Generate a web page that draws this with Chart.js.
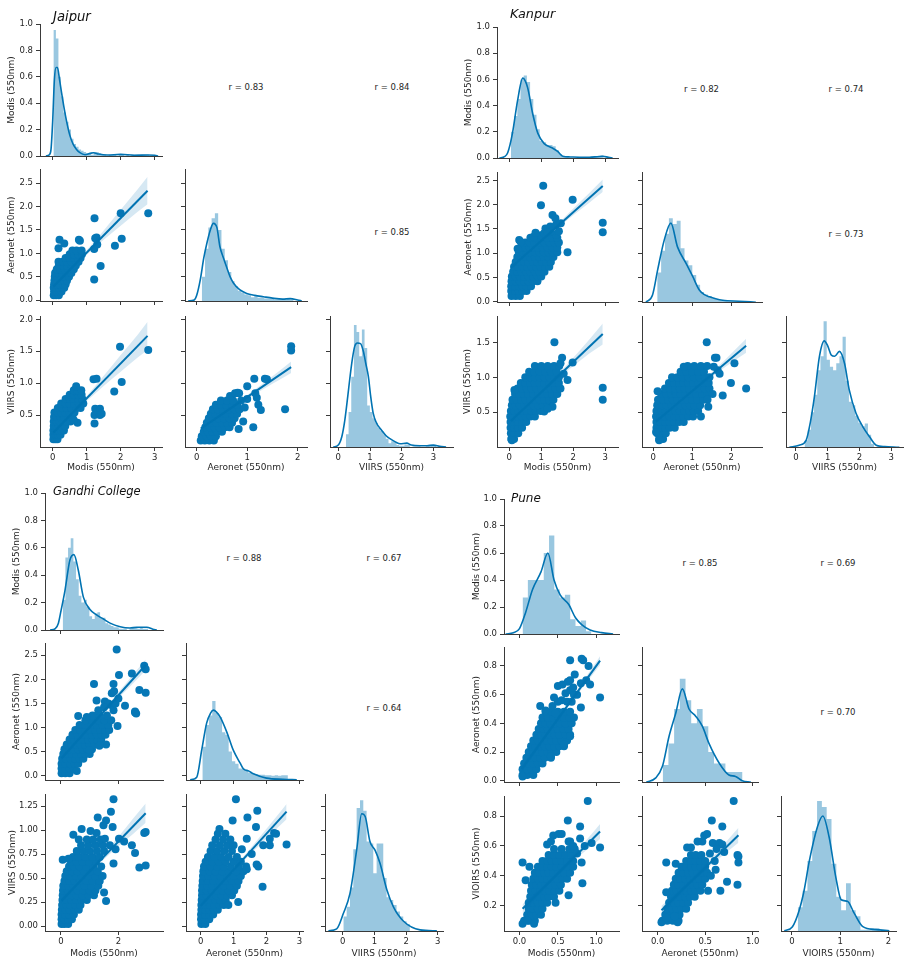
<!DOCTYPE html>
<html><head><meta charset="utf-8">
<script src="https://cdn.jsdelivr.net/npm/chart.js@4.4.0/dist/chart.umd.min.js"></script>
<style>
html,body{margin:0;padding:0;background:#fff;}
#page{position:relative;width:913px;height:960px;overflow:hidden;font-family:'DejaVu Sans',sans-serif;}
#page canvas{position:absolute;}
.rl{position:absolute;white-space:nowrap;color:#262626;font-size:8.5px;line-height:1;transform:translate(-50%,-50%);}
.tt{position:absolute;white-space:nowrap;color:#111;font-style:italic;line-height:1;transform:translateY(-50%);}
</style></head><body><div id="page"></div>
<script>
// ================= DATA =================
// tick values
const ticks0123 = [0,1,2,3];
const ticks012 = [0,1,2];
const ticks02 = [0,2];
const ticksDensity = [0,0.2,0.4,0.6,0.8,1.0];
const ticksHalfTo25 = [0,0.5,1.0,1.5,2.0,2.5];
const ticksJaipurViirs = [0.5,1.0,1.5,2.0];
const ticksKanpurViirs = [0.5,1.0,1.5];
const ticksGandhiViirs = [0,0.25,0.5,0.75,1.0,1.25];
const ticksPuneX = [0,0.5,1.0];
const ticksPuneAeronet = [0,0.2,0.4,0.6,0.8];
const ticksPuneViirs = [0.2,0.4,0.6,0.8];

const varNames = ['Modis (550nm)','Aeronet (550nm)','VIIRS (550nm)'];
const varNamesPune = ['Modis (550nm)','Aeronet (550nm)','VIOIRS (550nm)'];
const siteNames = ['Jaipur','Kanpur','Gandhi College','Pune'];

// correlation coefficients: [Modis-Aeronet, Modis-VIIRS, Aeronet-VIIRS]
const jaipurR = [0.83,0.84,0.85];
const kanpurR = [0.82,0.74,0.73];
const gandhiR = [0.88,0.67,0.64];
const puneR = [0.85,0.69,0.70];

// ---------- Jaipur ----------
const jaipurModisBins = [0.02,0.074];
const jaipurModisHist = [0.955,0.89,0.6,0.45,0.33,0.26,0.2,0.13,0.09,0.07,0.05,0.04,0.03,0.02,0.02,0.01,0.03,0.03,0.02,0.01,0.01,0,0.01,0.01,0.01,0,0.01,0.01,0,0.01,0,0.01,0.01,0.01,0,0.01,0.01,0.01];
const jaipurModisKde = [[-0.2,0],[-0.1,0.01],[-0.05,0.05],[0,0.27],[0.05,0.58],[0.1,0.67],[0.14,0.67],[0.2,0.58],[0.26,0.48],[0.33,0.37],[0.41,0.26],[0.5,0.16],[0.6,0.09],[0.7,0.05],[0.8,0.025],[0.95,0.01],[1.1,0.02],[1.2,0.025],[1.35,0.015],[1.6,0.008],[2.0,0.012],[2.4,0.006],[2.8,0.008],[3.0,0.006],[3.1,0]];
const jaipurAeronetBins = [0.1,0.065];
const jaipurAeronetHist = [0.5,1.1,1.55,1.75,1.86,1.5,1.1,0.85,0.6,0.4,0.3,0.2,0.16,0.12,0.1,0.06,0.08,0.05,0.05,0.03,0.03,0.02,0.01,0.01,0,0.01,0.02,0.01];
const jaipurAeronetKde = [[-0.17,-0.02],[-0.05,0],[0,0.1],[0.07,0.43],[0.14,0.9],[0.2,1.21],[0.27,1.5],[0.33,1.64],[0.4,1.55],[0.46,1.14],[0.53,0.9],[0.59,0.71],[0.66,0.5],[0.73,0.36],[0.85,0.22],[0.99,0.14],[1.15,0.1],[1.32,0.07],[1.5,0.04],[1.7,0.02],[1.85,0.03],[2.0,0],[2.08,-0.02]];
const jaipurViirsBins = [0.24,0.084];
const jaipurViirsHist = [0.2,0.55,1.1,1.91,1.8,1.42,1.84,1.55,0.65,0.55,0.45,0.38,0.3,0.25,0.2,0.13,0.06,0.09,0.08,0.03,0.02,0.02,0.04,0.03,0,0.01,0.01,0.01,0,0,0.01,0.01,0.02,0.02];
const jaipurViirsKde = [[-0.16,0],[0,0.03],[0.11,0.16],[0.2,0.4],[0.3,0.8],[0.37,1.1],[0.45,1.4],[0.52,1.58],[0.6,1.63],[0.7,1.62],[0.79,1.5],[0.87,1.3],[0.95,1.1],[1.02,0.8],[1.1,0.53],[1.2,0.38],[1.37,0.26],[1.5,0.18],[1.63,0.13],[1.8,0.08],[1.95,0.05],[2.16,0.06],[2.3,0.03],[2.58,0.02],[2.8,0.02],[3.0,0.03],[3.2,0.01],[3.4,0]];

const jaipurModisAeronet = [
[0.03,0.10],[0.10,0.10],[0.18,0.10],
[0.04,0.18],[0.12,0.18],[0.20,0.18],[0.26,0.18],
[0.03,0.26],[0.10,0.26],[0.18,0.26],[0.27,0.26],[0.34,0.26],
[0.04,0.34],[0.12,0.34],[0.20,0.34],[0.30,0.34],[0.38,0.34],
[0.05,0.42],[0.13,0.42],[0.22,0.42],[0.32,0.42],[0.42,0.42],
[0.06,0.50],[0.14,0.50],[0.24,0.50],[0.35,0.50],[0.48,0.50],
[0.07,0.58],[0.16,0.58],[0.27,0.58],[0.40,0.58],[0.55,0.58],
[0.12,0.66],[0.22,0.66],[0.34,0.66],[0.46,0.66],[0.62,0.66],
[0.18,0.74],[0.30,0.74],[0.42,0.74],[0.55,0.74],[0.68,0.74],
[0.17,0.82],[0.30,0.82],[0.42,0.82],[0.55,0.82],[0.68,0.82],[0.76,0.82],
[0.38,0.90],[0.50,0.90],[0.62,0.90],[0.74,0.90],[0.82,0.90],
[0.50,0.98],[0.62,0.98],[0.75,0.98],[0.86,0.98],
[0.58,1.06],[0.70,1.06],[0.85,1.06],
[0.20,1.29],[0.77,1.29],[0.17,1.11],[0.34,1.21],[0.80,1.27],[1.23,1.75],[2.00,1.86],[2.81,1.86],[1.29,1.34],[2.03,1.31],[1.25,1.32],[1.22,1.09],[1.83,1.16],[1.41,0.73],[1.22,0.44],[1.31,1.19]];
const jaipurModisAeronetFit = [[0.02,0.29],[2.79,2.34]];
const jaipurModisAeronetBand = [[0.02,0.26,0.32],[0.3,0.48,0.52],[1.0,0.97,1.07],[1.5,1.29,1.49],[2.0,1.59,1.93],[2.5,1.89,2.37],[2.79,2.05,2.64]];

const jaipurModisViirs = [
[0.02,0.12],[0.08,0.12],[0.14,0.12],
[0.02,0.19],[0.09,0.19],[0.16,0.19],[0.23,0.19],
[0.02,0.26],[0.09,0.26],[0.17,0.26],[0.25,0.26],[0.33,0.26],
[0.03,0.33],[0.10,0.33],[0.18,0.33],[0.27,0.33],[0.37,0.33],
[0.03,0.40],[0.11,0.40],[0.20,0.40],[0.30,0.40],[0.42,0.40],[0.52,0.40],
[0.04,0.47],[0.12,0.47],[0.22,0.47],[0.33,0.47],[0.45,0.47],[0.58,0.47],
[0.05,0.54],[0.14,0.54],[0.25,0.54],[0.37,0.54],[0.50,0.54],[0.64,0.54],
[0.15,0.61],[0.28,0.61],[0.41,0.61],[0.55,0.61],[0.70,0.61],[0.82,0.61],
[0.25,0.68],[0.38,0.68],[0.50,0.68],[0.63,0.68],[0.77,0.68],[0.90,0.68],
[0.38,0.75],[0.50,0.75],[0.62,0.75],[0.75,0.75],[0.87,0.75],
[0.50,0.82],[0.62,0.82],[0.74,0.82],[0.85,0.82],
[0.62,0.89],[0.72,0.89],[0.84,0.89],
[0.69,0.95],[0.73,0.38],[0.62,0.42],
[1.98,1.57],[2.81,1.52],[1.20,1.06],[1.29,1.07],[2.03,1.02],[1.81,0.87],[1.25,0.60],[1.39,0.60],[1.23,0.50],[1.39,0.50],[1.44,0.52],[1.23,0.37]];
const jaipurModisViirsFit = [[0.02,0.227],[2.79,1.74]];
const jaipurModisViirsBand = [[0.02,0.21,0.25],[0.3,0.365,0.395],[1.0,0.72,0.8],[1.5,0.955,1.115],[2.0,1.18,1.44],[2.5,1.4,1.76],[2.79,1.52,1.96]];

const jaipurAeronetViirs = [
[0.08,0.10],[0.16,0.10],[0.25,0.10],[0.34,0.10],
[0.10,0.17],[0.19,0.17],[0.28,0.17],[0.38,0.17],
[0.14,0.24],[0.22,0.24],[0.31,0.24],[0.40,0.24],[0.50,0.24],
[0.17,0.31],[0.26,0.31],[0.35,0.31],[0.45,0.31],[0.56,0.31],[0.65,0.31],
[0.20,0.38],[0.29,0.38],[0.39,0.38],[0.50,0.38],[0.60,0.38],[0.70,0.38],
[0.24,0.45],[0.33,0.45],[0.43,0.45],[0.54,0.45],[0.65,0.45],[0.75,0.45],
[0.28,0.52],[0.37,0.52],[0.47,0.52],[0.58,0.52],[0.70,0.52],[0.80,0.52],
[0.32,0.59],[0.42,0.59],[0.52,0.59],[0.63,0.59],[0.75,0.59],[0.85,0.59],
[0.38,0.66],[0.48,0.66],[0.58,0.66],[0.70,0.66],[0.80,0.66],
[0.48,0.73],[0.60,0.73],[0.72,0.73],[0.88,0.73],
[1.87,1.58],[1.87,1.51],[1.75,0.59],[1.14,1.07],[1.35,1.07],[1.39,1.06],[1.00,0.95],[0.66,0.80],[0.76,0.84],[0.81,0.85],[0.84,0.84],[1.16,0.84],[1.19,0.77],[0.92,0.40],[1.12,0.31],[0.83,0.28],[1.22,0.66],[1.27,0.58],[1.00,0.75],[0.95,0.62]];
const jaipurAeronetViirsFit = [[0.08,0.289],[1.87,1.25]];
const jaipurAeronetViirsBand = [[0.08,0.27,0.31],[0.4,0.451,0.471],[1.0,0.753,0.813],[1.5,0.99,1.11],[1.87,1.16,1.34]];

// ---------- Kanpur ----------
const kanpurModisBins = [0.05,0.1];
const kanpurModisHist = [0.2,0.32,0.45,0.6,0.63,0.58,0.45,0.33,0.22,0.13,0.12,0.1,0.1,0.09,0.06,0.03,0.01,0.01,0,0,0,0,0,0,0,0.01,0.01,0.01,0.02];
const kanpurModisKde = [[-0.31,0],[-0.15,0.01],[-0.05,0.04],[0.1,0.19],[0.26,0.44],[0.42,0.61],[0.57,0.54],[0.73,0.34],[0.89,0.19],[1.09,0.11],[1.35,0.076],[1.51,0.05],[1.67,0.013],[1.9,0.008],[2.2,0.006],[2.5,0.006],[2.75,0.01],[2.92,0.013],[3.1,0.005],[3.23,0]];
const kanpurAeronetBins = [0.1,0.1];
const kanpurAeronetHist = [0.6,1.05,1.4,1.72,1.6,1.67,1.1,0.85,0.75,0.55,0.35,0.2,0.15,0.12,0.07,0.05,0.03,0.02,0.01,0.01,0.01,0,0.01];
const kanpurAeronetKde = [[-0.19,-0.01],[-0.02,0.14],[0.11,0.65],[0.28,1.27],[0.45,1.62],[0.62,1.13],[0.84,0.79],[1.01,0.52],[1.18,0.24],[1.3,0.15],[1.44,0.1],[1.6,0.06],[1.78,0.03],[2.2,0.01],[2.63,-0.01]];
const kanpurViirsBins = [0.27,0.1];
const kanpurViirsHist = [0.1,0.25,0.5,0.75,1.1,1.3,1.8,1.25,1.15,1.1,1.2,1.3,1.58,0.95,0.65,0.6,0.45,0.35,0.3,0.34,0.18,0.05];
const kanpurViirsKde = [[-0.21,0],[0.1,0.03],[0.32,0.1],[0.45,0.35],[0.58,0.72],[0.74,1.3],[0.89,1.52],[1.0,1.45],[1.11,1.32],[1.22,1.3],[1.37,1.37],[1.53,1.2],[1.68,0.82],[1.89,0.49],[2.1,0.3],[2.32,0.15],[2.53,0.03],[2.8,0.01],[3.26,0]];

const kanpurModisAeronet = [
[0.07,0.12],[0.20,0.12],[0.33,0.12],
[0.06,0.22],[0.18,0.22],[0.30,0.22],[0.42,0.22],[0.54,0.22],
[0.06,0.32],[0.18,0.32],[0.30,0.32],[0.42,0.32],[0.54,0.32],[0.68,0.32],
[0.07,0.42],[0.20,0.42],[0.33,0.42],[0.46,0.42],[0.60,0.42],[0.74,0.42],[0.88,0.42],
[0.08,0.52],[0.20,0.52],[0.33,0.52],[0.46,0.52],[0.60,0.52],[0.74,0.52],[0.88,0.52],[1.00,0.52],
[0.12,0.62],[0.25,0.62],[0.38,0.62],[0.52,0.62],[0.66,0.62],[0.80,0.62],[0.94,0.62],[1.10,0.62],
[0.15,0.72],[0.28,0.72],[0.42,0.72],[0.56,0.72],[0.70,0.72],[0.84,0.72],[0.98,0.72],[1.12,0.72],[1.25,0.72],
[0.20,0.82],[0.33,0.82],[0.47,0.82],[0.60,0.82],[0.74,0.82],[0.88,0.82],[1.02,0.82],[1.16,0.82],[1.30,0.82],
[0.25,0.92],[0.38,0.92],[0.52,0.92],[0.66,0.92],[0.80,0.92],[0.94,0.92],[1.08,0.92],[1.22,0.92],[1.38,0.92],
[0.30,1.02],[0.42,1.02],[0.54,1.02],[0.66,1.02],[0.80,1.02],[0.94,1.02],[1.08,1.02],[1.22,1.02],[1.36,1.02],[1.50,1.02],
[0.40,1.12],[0.52,1.12],[0.64,1.12],[0.76,1.12],[0.90,1.12],[1.05,1.12],[1.20,1.12],[1.35,1.12],[1.50,1.12],
[0.50,1.22],[0.64,1.22],[0.78,1.22],[0.94,1.22],[1.10,1.22],[1.26,1.22],[1.42,1.22],[1.55,1.22],
[0.66,1.32],[0.82,1.32],[1.00,1.32],[1.18,1.32],[1.35,1.32],[1.50,1.32],
[1.06,2.39],[0.99,1.99],[1.98,2.10],[2.92,1.63],[2.92,1.43],[1.35,1.79],[1.44,1.72],[0.76,1.34],[0.99,1.37],[1.13,1.51],[1.28,1.55],[1.46,1.58],[1.61,1.62],[0.31,1.27],[1.82,1.02],[0.26,1.09],[0.36,1.23],[1.09,1.41],[1.46,1.38],[1.30,1.45],[1.55,1.45],[0.82,1.42],[1.20,1.42]];
const kanpurModisAeronetFit = [[0.05,0.70],[2.92,2.387]];
const kanpurModisAeronetBand = [[0.05,0.67,0.73],[0.5,0.95,0.98],[1.0,1.238,1.278],[1.5,1.51,1.59],[2.0,1.78,1.92],[2.5,2.04,2.24],[2.92,2.26,2.52]];

const kanpurModisViirs = [
[0.06,0.12],[0.15,0.12],
[0.05,0.20],[0.15,0.20],[0.28,0.20],
[0.04,0.28],[0.15,0.28],[0.27,0.28],[0.40,0.28],
[0.04,0.36],[0.15,0.36],[0.27,0.36],[0.40,0.36],[0.53,0.36],
[0.03,0.44],[0.14,0.44],[0.26,0.44],[0.39,0.44],[0.52,0.44],[0.66,0.44],[0.80,0.44],
[0.05,0.52],[0.16,0.52],[0.28,0.52],[0.41,0.52],[0.55,0.52],[0.69,0.52],[0.83,0.52],[0.98,0.52],
[0.08,0.60],[0.20,0.60],[0.33,0.60],[0.47,0.60],[0.61,0.60],[0.75,0.60],[0.90,0.60],[1.05,0.60],[1.20,0.60],
[0.10,0.68],[0.23,0.68],[0.37,0.68],[0.51,0.68],[0.65,0.68],[0.80,0.68],[0.95,0.68],[1.10,0.68],[1.25,0.68],[1.38,0.68],
[0.18,0.76],[0.31,0.76],[0.45,0.76],[0.60,0.76],[0.75,0.76],[0.90,0.76],[1.05,0.76],[1.20,0.76],[1.35,0.76],[1.50,0.76],
[0.26,0.84],[0.40,0.84],[0.55,0.84],[0.70,0.84],[0.85,0.84],[1.00,0.84],[1.15,0.84],[1.30,0.84],[1.45,0.84],[1.60,0.84],
[0.36,0.92],[0.50,0.92],[0.65,0.92],[0.80,0.92],[0.95,0.92],[1.10,0.92],[1.25,0.92],[1.40,0.92],[1.55,0.92],
[0.50,1.00],[0.65,1.00],[0.80,1.00],[0.95,1.00],[1.10,1.00],[1.25,1.00],[1.40,1.00],[1.55,1.00],
[0.62,1.08],[0.78,1.08],[0.95,1.08],[1.12,1.08],[1.30,1.08],[1.48,1.08],
[0.80,1.16],[1.00,1.16],[1.20,1.16],[1.40,1.16],[1.56,1.16],
[1.41,1.50],[1.65,1.28],[1.98,1.21],[1.82,0.96],[2.92,0.85],[2.92,0.68],[1.35,0.58],[1.09,0.51],[0.16,0.82],[0.08,0.10],[1.20,0.55],[1.60,1.20],[1.70,1.05]];
const kanpurModisViirsFit = [[0.05,0.375],[2.92,1.62]];
const kanpurModisViirsBand = [[0.05,0.355,0.395],[0.5,0.56,0.58],[1.0,0.772,0.802],[1.5,0.974,1.034],[2.0,1.16,1.28],[2.5,1.34,1.54],[2.92,1.47,1.77]];

const kanpurAeronetViirs = [
[0.15,0.12],[0.25,0.12],
[0.10,0.20],[0.20,0.20],[0.32,0.20],
[0.08,0.28],[0.18,0.28],[0.30,0.28],[0.42,0.28],[0.55,0.28],
[0.08,0.36],[0.18,0.36],[0.30,0.36],[0.42,0.36],[0.54,0.36],[0.66,0.36],[0.78,0.36],
[0.07,0.44],[0.18,0.44],[0.30,0.44],[0.42,0.44],[0.54,0.44],[0.66,0.44],[0.78,0.44],[0.90,0.44],[1.02,0.44],
[0.08,0.52],[0.20,0.52],[0.32,0.52],[0.44,0.52],[0.56,0.52],[0.68,0.52],[0.80,0.52],[0.92,0.52],[1.04,0.52],[1.15,0.52],
[0.10,0.60],[0.22,0.60],[0.34,0.60],[0.46,0.60],[0.58,0.60],[0.70,0.60],[0.82,0.60],[0.94,0.60],[1.06,0.60],[1.20,0.60],
[0.12,0.68],[0.25,0.68],[0.38,0.68],[0.50,0.68],[0.62,0.68],[0.75,0.68],[0.88,0.68],[1.00,0.68],[1.13,0.68],[1.28,0.68],
[0.20,0.76],[0.33,0.76],[0.46,0.76],[0.58,0.76],[0.70,0.76],[0.83,0.76],[0.96,0.76],[1.10,0.76],[1.25,0.76],[1.38,0.76],
[0.30,0.84],[0.43,0.84],[0.56,0.84],[0.68,0.84],[0.80,0.84],[0.92,0.84],[1.05,0.84],[1.18,0.84],[1.32,0.84],[1.44,0.84],
[0.40,0.92],[0.53,0.92],[0.66,0.92],[0.78,0.92],[0.90,0.92],[1.02,0.92],[1.15,0.92],[1.30,0.92],[1.42,0.92],
[0.48,1.00],[0.62,1.00],[0.76,1.00],[0.90,1.00],[1.04,1.00],[1.18,1.00],[1.32,1.00],[1.44,1.00],
[0.70,1.08],[0.85,1.08],[1.00,1.08],[1.15,1.08],[1.30,1.08],
[0.88,1.16],[1.05,1.16],[1.22,1.16],[1.38,1.16],
[1.37,1.50],[1.58,1.28],[1.62,1.28],[0.78,1.15],[2.08,1.20],[1.99,0.92],[2.38,0.84],[1.78,0.74],[1.52,0.76],[1.39,0.68],[1.41,0.58],[1.22,0.44],[0.11,0.80],[0.07,0.22],[0.15,0.10],[1.55,1.15],[1.65,1.10],[1.70,1.05]];
const kanpurAeronetViirsFit = [[0.07,0.369],[2.38,1.45]];
const kanpurAeronetViirsBand = [[0.07,0.35,0.39],[0.6,0.607,0.627],[1.2,0.878,0.918],[1.8,1.13,1.23],[2.38,1.35,1.55]];

// ---------- Gandhi College ----------
const gandhiModisBins = [0.06,0.093];
const gandhiModisHist = [0.22,0.53,0.6,0.67,0.5,0.37,0.25,0.2,0.22,0.17,0.1,0.08,0.12,0.13,0.09,0.09,0.05,0.04,0.03,0.02,0.02,0.01,0.01,0.01,0,0.01,0.02,0.02,0.01,0.02,0.01,0.01];
const gandhiModisKde = [[-0.38,0],[-0.2,0.01],[-0.09,0.05],[0,0.14],[0.14,0.29],[0.31,0.51],[0.45,0.55],[0.6,0.44],[0.78,0.24],[1.01,0.15],[1.24,0.11],[1.48,0.08],[1.71,0.05],[2.06,0.024],[2.4,0.015],[2.64,0.02],[2.99,0.02],[3.2,0.006],[3.34,0]];
const gandhiAeronetBins = [0.05,0.1];
const gandhiAeronetHist = [0.6,1.05,1.25,1.55,1.3,1.22,0.9,0.85,0.5,0.3,0.25,0.15,0.15,0.12,0.06,0.04,0.03,0.02,0.02,0.01,0.01,0,0.01,0,0.01,0.01];
const gandhiAeronetKde = [[-0.32,-0.085],[-0.12,-0.03],[0.03,0.53],[0.18,1.09],[0.3,1.3],[0.39,1.36],[0.48,1.32],[0.59,1.22],[0.79,0.91],[0.99,0.53],[1.2,0.26],[1.3,0.14],[1.45,0.1],[1.6,0.04],[2.0,-0.05],[2.5,-0.075],[2.92,-0.085]];
const gandhiViirsBins = [0.02,0.105];
const gandhiViirsHist = [0.1,0.2,0.4,0.8,1.23,1.31,1.2,0.88,0.86,0.55,0.86,0.86,0.5,0.3,0.27,0.22,0.15,0.1,0.05,0.02];
const gandhiViirsKde = [[-0.45,-0.05],[-0.19,-0.03],[0.02,0.13],[0.23,0.34],[0.44,0.79],[0.6,1.17],[0.71,1.14],[0.86,0.88],[1.02,0.79],[1.18,0.65],[1.39,0.38],[1.6,0.2],[1.92,0.05],[2.44,-0.04],[2.97,-0.05]];

const gandhiModisAeronet = [
[0.02,0.05],[0.15,0.05],[0.30,0.05],
[0.02,0.15],[0.15,0.15],[0.30,0.15],[0.45,0.15],
[0.02,0.25],[0.16,0.25],[0.32,0.25],[0.48,0.25],[0.60,0.25],
[0.04,0.35],[0.18,0.35],[0.34,0.35],[0.50,0.35],[0.65,0.35],[0.78,0.35],
[0.08,0.45],[0.22,0.45],[0.38,0.45],[0.54,0.45],[0.70,0.45],[0.85,0.45],[1.00,0.45],
[0.12,0.55],[0.28,0.55],[0.44,0.55],[0.60,0.55],[0.76,0.55],[0.92,0.55],[1.08,0.55],
[0.20,0.65],[0.36,0.65],[0.52,0.65],[0.68,0.65],[0.84,0.65],[1.00,0.65],[1.16,0.65],[1.30,0.65],
[0.30,0.75],[0.46,0.75],[0.62,0.75],[0.78,0.75],[0.94,0.75],[1.10,0.75],[1.26,0.75],[1.40,0.75],
[0.40,0.85],[0.58,0.85],[0.75,0.85],[0.92,0.85],[1.08,0.85],[1.25,0.85],[1.42,0.85],[1.55,0.85],
[0.50,0.95],[0.68,0.95],[0.85,0.95],[1.02,0.95],[1.20,0.95],[1.38,0.95],[1.55,0.95],[1.68,0.95],
[0.65,1.05],[0.85,1.05],[1.05,1.05],[1.25,1.05],[1.45,1.05],[1.65,1.05],
[0.85,1.15],[1.08,1.15],[1.30,1.15],[1.52,1.15],[1.75,1.15],
[1.10,1.25],[1.35,1.25],[1.60,1.25],
[1.94,2.62],[2.90,2.28],[2.95,2.21],[1.15,1.90],[1.83,1.90],[2.02,2.09],[2.47,2.12],[2.73,1.78],[2.95,1.72],[1.77,1.71],[1.24,1.56],[2.23,1.45],[2.58,1.33],[2.62,1.29],[0.60,1.24],[0.90,1.22],[1.53,1.54],[1.71,1.47],[1.30,1.36],[1.83,1.36],[2.58,1.31],[1.97,1.03],[1.57,0.65],[1.34,0.62],[0.99,0.53],[0.55,0.10],[1.65,1.50],[1.50,1.42],[1.90,1.50],[2.00,1.60],[1.85,1.75]];
const gandhiModisAeronetFit = [[0.02,0.363],[2.95,2.297]];
const gandhiModisAeronetBand = [[0.02,0.33,0.39],[0.5,0.66,0.70],[1.0,0.99,1.03],[1.5,1.3,1.38],[2.0,1.61,1.73],[2.5,1.91,2.09],[2.95,2.19,2.41]];

const gandhiModisViirs = [
[0.02,0.02],[0.12,0.02],[0.25,0.02],
[0.02,0.07],[0.12,0.07],[0.25,0.07],[0.38,0.07],
[0.02,0.12],[0.14,0.12],[0.28,0.12],[0.45,0.12],
[0.03,0.17],[0.16,0.17],[0.30,0.17],[0.48,0.17],[0.62,0.17],
[0.04,0.22],[0.18,0.22],[0.33,0.22],[0.50,0.22],[0.68,0.22],
[0.05,0.27],[0.20,0.27],[0.36,0.27],[0.52,0.27],[0.72,0.27],[0.90,0.27],
[0.06,0.32],[0.22,0.32],[0.38,0.32],[0.55,0.32],[0.75,0.32],[0.95,0.32],[1.15,0.32],
[0.07,0.37],[0.24,0.37],[0.40,0.37],[0.58,0.37],[0.78,0.37],[1.00,0.37],[1.20,0.37],
[0.08,0.42],[0.26,0.42],[0.44,0.42],[0.62,0.42],[0.82,0.42],[1.05,0.42],[1.30,0.42],
[0.12,0.47],[0.30,0.47],[0.48,0.47],[0.66,0.47],[0.88,0.47],[1.10,0.47],[1.35,0.47],
[0.15,0.52],[0.33,0.52],[0.52,0.52],[0.72,0.52],[0.95,0.52],[1.20,0.52],[1.45,0.52],
[0.20,0.57],[0.38,0.57],[0.58,0.57],[0.80,0.57],[1.02,0.57],[1.28,0.57],
[0.28,0.62],[0.45,0.62],[0.65,0.62],[0.88,0.62],[1.12,0.62],[1.40,0.62],
[0.35,0.67],[0.55,0.67],[0.75,0.67],[0.98,0.67],[1.22,0.67],
[0.42,0.72],[0.62,0.72],[0.85,0.72],[1.10,0.72],[1.35,0.72],
[0.55,0.78],[0.78,0.78],[1.00,0.78],[1.25,0.78],[1.50,0.78],
[0.70,0.84],[0.95,0.84],[1.20,0.84],[1.45,0.84],[1.70,0.84],
[0.62,0.90],[0.90,0.90],[1.12,0.90],[1.38,0.90],
[1.83,1.32],[1.74,1.19],[1.28,1.13],[1.57,1.10],[1.48,1.05],[1.80,1.03],[0.72,1.01],[1.03,0.99],[0.43,0.95],[1.24,0.97],[1.53,0.91],[2.47,0.84],[2.90,0.97],[2.95,0.98],[2.58,0.76],[2.73,0.61],[2.95,0.63],[2.02,0.91],[1.83,0.65],[1.57,0.26],[1.50,0.35],[0.06,0.69],[0.26,0.70],[2.20,0.88],[1.90,0.80]];
const gandhiModisViirsFit = [[0.02,0.266],[2.95,1.175]];
const gandhiModisViirsBand = [[0.02,0.246,0.286],[0.5,0.405,0.425],[1.0,0.555,0.585],[1.5,0.695,0.755],[2.0,0.83,0.93],[2.5,0.955,1.115],[2.95,1.075,1.275]];

const gandhiAeronetViirs = [
[0.02,0.02],[0.14,0.02],
[0.01,0.07],[0.13,0.07],[0.26,0.07],
[0.01,0.12],[0.13,0.12],[0.26,0.12],[0.38,0.12],
[0.02,0.17],[0.14,0.17],[0.27,0.17],[0.40,0.17],[0.52,0.17],
[0.02,0.22],[0.15,0.22],[0.28,0.22],[0.42,0.22],[0.56,0.22],[0.70,0.22],
[0.03,0.27],[0.16,0.27],[0.30,0.27],[0.44,0.27],[0.60,0.27],[0.76,0.27],
[0.04,0.32],[0.17,0.32],[0.32,0.32],[0.47,0.32],[0.63,0.32],[0.80,0.32],[0.95,0.32],
[0.04,0.37],[0.18,0.37],[0.34,0.37],[0.50,0.37],[0.67,0.37],[0.85,0.37],[1.02,0.37],
[0.05,0.42],[0.20,0.42],[0.36,0.42],[0.53,0.42],[0.70,0.42],[0.90,0.42],[1.10,0.42],
[0.06,0.47],[0.22,0.47],[0.38,0.47],[0.56,0.47],[0.75,0.47],[0.95,0.47],[1.15,0.47],
[0.07,0.52],[0.24,0.52],[0.42,0.52],[0.60,0.52],[0.80,0.52],[1.00,0.52],[1.22,0.52],
[0.08,0.57],[0.26,0.57],[0.45,0.57],[0.65,0.57],[0.85,0.57],[1.08,0.57],[1.30,0.57],
[0.10,0.62],[0.30,0.62],[0.50,0.62],[0.70,0.62],[0.92,0.62],[1.15,0.62],[1.38,0.62],
[0.15,0.67],[0.35,0.67],[0.55,0.67],[0.76,0.67],[1.00,0.67],[1.22,0.67],
[0.22,0.72],[0.42,0.72],[0.62,0.72],[0.85,0.72],[1.10,0.72],
[0.30,0.78],[0.50,0.78],[0.72,0.78],[0.95,0.78],
[0.35,0.84],[0.58,0.84],[0.80,0.84],[1.00,0.84],
[0.45,0.90],[0.68,0.90],[0.90,0.90],
[0.52,0.96],[0.75,0.96],
[1.07,1.32],[1.72,1.20],[0.97,1.10],[1.42,1.13],[0.57,1.01],[1.68,1.03],[1.40,0.91],[1.90,0.84],[2.10,0.91],[2.23,0.97],[2.29,0.96],[2.61,0.85],[2.10,0.84],[1.70,0.64],[1.75,0.62],[1.88,0.41],[1.14,0.25],[0.84,0.22],[1.40,0.59],[1.25,0.80],[1.55,0.75]];
const gandhiAeronetViirsFit = [[0.0,0.21],[2.61,1.191]];
const gandhiAeronetViirsBand = [[0.0,0.19,0.23],[0.5,0.388,0.408],[1.0,0.571,0.601],[1.5,0.744,0.804],[2.0,0.912,1.012],[2.61,1.111,1.271]];

// ---------- Pune ----------
const puneModisBins = [0.04,0.069];
const puneModisHist = [0.27,0.4,0.4,0.4,0.6,0.73,0.33,0.27,0.29,0.11,0.06,0.1,0.02];
const puneModisKde = [[-0.18,0],[-0.08,0.01],[0,0.04],[0.08,0.16],[0.17,0.33],[0.28,0.46],[0.37,0.6],[0.45,0.4],[0.53,0.29],[0.64,0.22],[0.73,0.12],[0.81,0.07],[0.92,0.03],[1.07,0.01],[1.22,0]];
const puneAeronetBins = [0.053,0.06];
const puneAeronetHist = [0.11,0.26,0.5,0.71,0.56,0.4,0.5,0.38,0.2,0.12,0.12,0.06,0.06,0.06];
const puneAeronetKde = [[-0.12,-0.01],[-0.02,0.02],[0.05,0.1],[0.12,0.31],[0.19,0.47],[0.26,0.64],[0.33,0.5],[0.4,0.45],[0.47,0.38],[0.54,0.26],[0.65,0.12],[0.75,0.04],[0.82,0.03],[0.89,0],[0.98,-0.01]];
const puneViirsBins = [0.12,0.1];
const puneViirsHist = [0.19,0.3,0.5,0.7,0.9,0.86,0.78,0.48,0.26,0.17,0.35,0.17,0.13,0.04,0.04,0.05,0.05];
const puneViirsKde = [[-0.16,0.033],[0.01,0.06],[0.15,0.17],[0.25,0.3],[0.36,0.5],[0.53,0.73],[0.64,0.8],[0.77,0.66],[0.91,0.39],[1.02,0.24],[1.15,0.23],[1.29,0.15],[1.47,0.06],[1.74,0.04],[2.02,0.033]];

const puneModisAeronet = [
[0.04,0.04],[0.10,0.04],[0.18,0.04],
[0.04,0.08],[0.10,0.08],[0.16,0.08],[0.22,0.08],
[0.06,0.12],[0.12,0.12],[0.18,0.12],[0.24,0.12],[0.30,0.12],
[0.09,0.16],[0.15,0.16],[0.21,0.16],[0.27,0.16],[0.33,0.16],[0.41,0.16],
[0.12,0.20],[0.18,0.20],[0.24,0.20],[0.30,0.20],[0.36,0.20],[0.42,0.20],[0.48,0.20],
[0.15,0.24],[0.21,0.24],[0.27,0.24],[0.33,0.24],[0.39,0.24],[0.45,0.24],[0.52,0.24],[0.58,0.24],
[0.18,0.28],[0.24,0.28],[0.30,0.28],[0.36,0.28],[0.42,0.28],[0.48,0.28],[0.55,0.28],[0.62,0.28],
[0.22,0.32],[0.28,0.32],[0.34,0.32],[0.40,0.32],[0.46,0.32],[0.52,0.32],[0.60,0.32],[0.66,0.32],
[0.25,0.36],[0.31,0.36],[0.37,0.36],[0.43,0.36],[0.50,0.36],[0.57,0.36],[0.64,0.36],
[0.28,0.40],[0.34,0.40],[0.40,0.40],[0.46,0.40],[0.53,0.40],[0.60,0.40],[0.68,0.40],
[0.30,0.44],[0.37,0.44],[0.44,0.44],[0.51,0.44],[0.58,0.44],[0.65,0.44],[0.71,0.44],
[0.34,0.48],[0.42,0.48],[0.50,0.48],[0.58,0.48],[0.66,0.48],
[0.66,0.84],[0.81,0.85],[0.83,0.84],[0.90,0.80],[1.05,0.58],[0.92,0.67],[0.87,0.70],[0.72,0.74],[0.50,0.66],[0.56,0.67],[0.63,0.69],[0.66,0.70],[0.27,0.52],[0.80,0.51],[0.60,0.61],[0.66,0.63],[0.71,0.60],[0.55,0.56],[0.43,0.52],[0.34,0.49],[0.47,0.47],[0.58,0.25],[0.66,0.31],[0.41,0.17],[0.04,0.03],[0.62,0.55],[0.68,0.55],[0.75,0.60],[0.50,0.55],[0.45,0.58],[0.70,0.65],[0.80,0.68]];
const puneModisAeronetFit = [[0.03,0.082],[1.05,0.837]];
const puneModisAeronetBand = [[0.03,0.062,0.102],[0.35,0.309,0.329],[0.7,0.563,0.593],[1.05,0.807,0.867]];

const puneModisViirs = [
[0.06,0.10],[0.13,0.10],[0.20,0.10],
[0.10,0.14],[0.16,0.14],[0.22,0.14],[0.28,0.14],
[0.12,0.18],[0.18,0.18],[0.24,0.18],[0.30,0.18],
[0.12,0.22],[0.18,0.22],[0.24,0.22],[0.30,0.22],[0.36,0.22],
[0.14,0.26],[0.20,0.26],[0.26,0.26],[0.32,0.26],[0.38,0.26],[0.45,0.26],
[0.15,0.30],[0.21,0.30],[0.27,0.30],[0.33,0.30],[0.39,0.30],[0.46,0.30],[0.52,0.30],
[0.16,0.34],[0.22,0.34],[0.28,0.34],[0.34,0.34],[0.40,0.34],[0.47,0.34],[0.54,0.34],
[0.18,0.38],[0.24,0.38],[0.30,0.38],[0.36,0.38],[0.42,0.38],[0.49,0.38],[0.56,0.38],[0.62,0.38],
[0.20,0.42],[0.26,0.42],[0.32,0.42],[0.38,0.42],[0.44,0.42],[0.51,0.42],[0.58,0.42],[0.66,0.42],
[0.24,0.46],[0.30,0.46],[0.36,0.46],[0.42,0.46],[0.48,0.46],[0.55,0.46],[0.62,0.46],[0.70,0.46],
[0.30,0.50],[0.36,0.50],[0.42,0.50],[0.48,0.50],[0.55,0.50],[0.62,0.50],[0.70,0.50],
[0.38,0.54],[0.45,0.54],[0.52,0.54],[0.60,0.54],[0.68,0.54],
[0.45,0.58],[0.55,0.58],[0.65,0.58],[0.72,0.58],
[0.89,0.90],[0.63,0.77],[0.79,0.73],[0.44,0.67],[0.51,0.68],[0.55,0.68],[0.36,0.61],[0.41,0.63],[0.64,0.63],[0.66,0.63],[0.79,0.65],[0.94,0.62],[1.05,0.59],[0.81,0.49],[0.82,0.35],[0.64,0.27],[0.47,0.22],[0.04,0.49],[0.13,0.46],[0.08,0.37],[0.04,0.08],[0.10,0.10],[0.19,0.08],[0.75,0.55],[0.85,0.60],[0.70,0.60]];
const puneModisViirsFit = [[0.04,0.18],[1.05,0.696]];
const puneModisViirsBand = [[0.04,0.15,0.21],[0.35,0.327,0.351],[0.7,0.497,0.537],[1.05,0.646,0.746]];

const puneAeronetViirs = [
[0.05,0.10],[0.10,0.10],[0.16,0.10],[0.22,0.10],
[0.08,0.14],[0.13,0.14],[0.18,0.14],[0.23,0.14],
[0.10,0.18],[0.15,0.18],[0.20,0.18],[0.25,0.18],[0.30,0.18],
[0.12,0.22],[0.17,0.22],[0.22,0.22],[0.27,0.22],[0.32,0.22],
[0.14,0.26],[0.19,0.26],[0.24,0.26],[0.29,0.26],[0.34,0.26],[0.39,0.26],
[0.15,0.30],[0.20,0.30],[0.25,0.30],[0.30,0.30],[0.35,0.30],[0.40,0.30],[0.45,0.30],
[0.17,0.34],[0.22,0.34],[0.27,0.34],[0.32,0.34],[0.37,0.34],[0.42,0.34],[0.47,0.34],
[0.19,0.38],[0.24,0.38],[0.29,0.38],[0.34,0.38],[0.39,0.38],[0.44,0.38],[0.50,0.38],
[0.22,0.42],[0.27,0.42],[0.32,0.42],[0.37,0.42],[0.42,0.42],[0.47,0.42],[0.52,0.42],
[0.25,0.46],[0.30,0.46],[0.35,0.46],[0.40,0.46],[0.45,0.46],[0.50,0.46],
[0.30,0.50],[0.35,0.50],[0.40,0.50],[0.45,0.50],[0.50,0.50],
[0.35,0.54],[0.40,0.54],[0.46,0.54],
[0.80,0.90],[0.57,0.77],[0.68,0.73],[0.31,0.59],[0.35,0.59],[0.42,0.63],[0.47,0.63],[0.49,0.67],[0.52,0.68],[0.58,0.62],[0.65,0.62],[0.68,0.61],[0.84,0.54],[0.85,0.53],[0.85,0.49],[0.84,0.34],[0.73,0.36],[0.66,0.30],[0.53,0.30],[0.61,0.44],[0.19,0.48],[0.09,0.49],[0.09,0.29],[0.04,0.09],[0.09,0.12],[0.21,0.09],[0.18,0.13],[0.55,0.55],[0.60,0.50],[0.62,0.58],[0.70,0.56],[0.56,0.40]];
const puneAeronetViirsFit = [[0.04,0.17],[0.85,0.672]];
const puneAeronetViirsBand = [[0.04,0.14,0.2],[0.3,0.319,0.343],[0.6,0.492,0.542],[0.85,0.622,0.722]];

// ================= LAYOUT (pixel placement, axis windows) =================
const SITES = [
 { name: siteNames[0], names: varNames, r: jaipurR,
   title: {x:53, y:17, size:13.2},
   rPos: [[246,87],[392,87],[392,232]], dY:[28,28,28], dX:21,
   cols: [{px:[40,162], range:[-0.374,3.215], ticks:ticks0123, dec:0},
          {px:[185,307], range:[-0.232,2.184], ticks:ticks012, dec:0},
          {px:[330,453], range:[-0.262,3.618], ticks:ticks0123, dec:0}],
   rows: [{px:[24,156], range:[0,1.0], ticks:ticksDensity, dec:1},
          {px:[169,301], range:[-0.021,2.805], ticks:ticksHalfTo25, dec:1},
          {px:[316,447], range:[0,2.052], ticks:ticksJaipurViirs, dec:1}],
   hist: [[jaipurModisBins,jaipurModisHist,jaipurModisKde],[jaipurAeronetBins,jaipurAeronetHist,jaipurAeronetKde],[jaipurViirsBins,jaipurViirsHist,jaipurViirsKde]],
   sc: {'1,0':[jaipurModisAeronet,jaipurModisAeronetFit,jaipurModisAeronetBand],
        '2,0':[jaipurModisViirs,jaipurModisViirsFit,jaipurModisViirsBand],
        '2,1':[jaipurAeronetViirs,jaipurAeronetViirsFit,jaipurAeronetViirsBand]} },
 { name: siteNames[1], names: varNames, r: kanpurR,
   title: {x:510, y:13.5, size:12.8},
   rPos: [[701.5,89],[846,89],[846,234]], dY:[28,28,29], dX:21,
   cols: [{px:[497,618], range:[-0.384,3.397], ticks:ticks0123, dec:0},
          {px:[642,762], range:[-0.29,2.787], ticks:ticks012, dec:0},
          {px:[786,903], range:[-0.315,3.375], ticks:ticks0123, dec:0}],
   rows: [{px:[27,158], range:[0,1.0], ticks:ticksDensity, dec:1},
          {px:[172,302], range:[-0.006,2.674], ticks:ticksHalfTo25, dec:1},
          {px:[316,447], range:[0.004,1.876], ticks:ticksKanpurViirs, dec:1}],
   hist: [[kanpurModisBins,kanpurModisHist,kanpurModisKde],[kanpurAeronetBins,kanpurAeronetHist,kanpurAeronetKde],[kanpurViirsBins,kanpurViirsHist,kanpurViirsKde]],
   sc: {'1,0':[kanpurModisAeronet,kanpurModisAeronetFit,kanpurModisAeronetBand],
        '2,0':[kanpurModisViirs,kanpurModisViirsFit,kanpurModisViirsBand],
        '2,1':[kanpurAeronetViirs,kanpurAeronetViirsFit,kanpurAeronetViirsBand]} },
 { name: siteNames[2], names: varNames, r: gandhiR,
   title: {x:53, y:492, size:11.5},
   rPos: [[244,558],[384,558],[384,708]], dY:[28,28,32], dX:23,
   cols: [{px:[45,163], range:[-0.557,3.554], ticks:ticks02, dec:0},
          {px:[186,303], range:[-0.447,3.109], ticks:ticks0123, dec:0},
          {px:[325,443], range:[-0.558,3.164], ticks:ticks0123, dec:0}],
   rows: [{px:[493,630], range:[0,1.0], ticks:ticksDensity, dec:1},
          {px:[643,780], range:[-0.089,2.753], ticks:ticksHalfTo25, dec:1},
          {px:[794,931], range:[-0.052,1.375], ticks:ticksGandhiViirs, dec:2}],
   hist: [[gandhiModisBins,gandhiModisHist,gandhiModisKde],[gandhiAeronetBins,gandhiAeronetHist,gandhiAeronetKde],[gandhiViirsBins,gandhiViirsHist,gandhiViirsKde]],
   sc: {'1,0':[gandhiModisAeronet,gandhiModisAeronetFit,gandhiModisAeronetBand],
        '2,0':[gandhiModisViirs,gandhiModisViirsFit,gandhiModisViirsBand],
        '2,1':[gandhiAeronetViirs,gandhiAeronetViirsFit,gandhiAeronetViirsBand]} },
 { name: siteNames[3], names: varNamesPune, r: puneR,
   title: {x:511, y:498, size:12},
   rPos: [[700,563],[838,563],[838,712]], dY:[27,27,27], dX:23,
   cols: [{px:[504,619], range:[-0.202,1.297], ticks:ticksPuneX, dec:1},
          {px:[642,758], range:[-0.165,1.056], ticks:ticksPuneX, dec:1},
          {px:[781,896], range:[-0.228,2.158], ticks:ticks012, dec:0}],
   rows: [{px:[499,634], range:[0,1.0], ticks:ticksDensity, dec:1},
          {px:[647,782], range:[-0.009,0.932], ticks:ticksPuneAeronet, dec:1},
          {px:[796,931], range:[0.031,0.934], ticks:ticksPuneViirs, dec:1}],
   hist: [[puneModisBins,puneModisHist,puneModisKde],[puneAeronetBins,puneAeronetHist,puneAeronetKde],[puneViirsBins,puneViirsHist,puneViirsKde]],
   sc: {'1,0':[puneModisAeronet,puneModisAeronetFit,puneModisAeronetBand],
        '2,0':[puneModisViirs,puneModisViirsFit,puneModisViirsBand],
        '2,1':[puneAeronetViirs,puneAeronetViirsFit,puneAeronetViirsBand]} }
];

// ================= STYLE =================
const BLUE = '#0173B2';
const PT = '#0677b6';
const HISTFILL = 'rgba(1,115,178,0.40)';
const BANDFILL = 'rgba(1,115,178,0.16)';
const AXIS = '#3a3a3a';
const TXT = '#262626';
const FS = 8.5, TFS = 9;
const ML = 48, MT = 10, MR = 12, MB = 32;
const PR = 4;

Chart.defaults.font.family = "'DejaVu Sans', sans-serif";
Chart.defaults.font.size = FS;
Chart.defaults.color = TXT;

const page = document.getElementById('page');

function scaleCfg(isX, spec, showLabels, titleText, titlePad) {
  return {
    type: 'linear', position: isX ? 'bottom' : 'left',
    min: spec.range[0], max: spec.range[1],
    afterBuildTicks: s => { s.ticks = spec.ticks.map(v => ({value: v})); },
    afterFit: s => { if (isX) s.height = MB; else s.width = ML; },
    ticks: { autoSkip: false, maxRotation: 0, minRotation: 0, padding: isX ? 2 : 3, color: TXT,
             font: {size: FS}, callback: v => showLabels ? Number(v).toFixed(spec.dec) : '' },
    grid: { display: true, drawOnChartArea: false, drawTicks: true, tickLength: 4, tickWidth: 1,
            tickColor: AXIS, color: AXIS },
    border: { display: true, color: AXIS, width: 1 },
    title: { display: !!titleText, text: titleText || '', color: TXT, font: {size: TFS},
             padding: isX ? {top: 0, bottom: titlePad} : {top: titlePad, bottom: 0} }
  };
}

function histSets(bins, heights, kde, base) {
  const pts = heights.map((h, i) => [bins[0] + i * bins[1], h]);
  pts.push([bins[0] + heights.length * bins[1], heights[heights.length - 1]]);
  return [
    {data: kde, borderColor: BLUE, borderWidth: 1.6, pointRadius: 0, fill: false,
     cubicInterpolationMode: 'monotone', order: 1},
    {data: pts, stepped: true, borderWidth: 0, borderColor: 'rgba(0,0,0,0)', backgroundColor: HISTFILL,
     pointRadius: 0, fill: {value: base}, order: 2}
  ];
}

function scatterSets(pts, fit, band) {
  return [
    {data: fit, borderColor: BLUE, borderWidth: 2, pointRadius: 0, fill: false, order: 1},
    {data: band.map(b => [b[0], b[2]]), borderWidth: 0, borderColor: 'rgba(0,0,0,0)', pointRadius: 0,
     fill: '+1', backgroundColor: BANDFILL, cubicInterpolationMode: 'monotone', tension: 0.4, order: 2},
    {data: band.map(b => [b[0], b[1]]), borderWidth: 0, borderColor: 'rgba(0,0,0,0)', pointRadius: 0,
     fill: false, cubicInterpolationMode: 'monotone', tension: 0.4, order: 2},
    {data: pts, showLine: false, pointRadius: PR, pointHoverRadius: PR, pointBackgroundColor: PT,
     pointBorderWidth: 0, pointBorderColor: 'rgba(0,0,0,0)', borderColor: 'rgba(0,0,0,0)', order: 3}
  ];
}

function makeCell(site, r, c, datasets) {
  const X = site.cols[c], Y = site.rows[r];
  const w = X.px[1] - X.px[0] + ML + MR, h = Y.px[1] - Y.px[0] + MT + MB;
  const cv = document.createElement('canvas');
  cv.width = w; cv.height = h;
  cv.style.left = (X.px[0] - ML) + 'px'; cv.style.top = (Y.px[0] - MT) + 'px';
  cv.style.width = w + 'px'; cv.style.height = h + 'px';
  page.appendChild(cv);
  const lh = TFS * 1.2;
  const xTitle = r === 2 ? site.names[c] : null;
  const yTitle = c === 0 ? site.names[r] : null;
  new Chart(cv, {
    type: 'line',
    data: {datasets},
    options: {
      responsive: false, animation: false, events: [],
      layout: {padding: {left: 0, top: MT, right: MR, bottom: 0}},
      plugins: {legend: {display: false}, tooltip: {enabled: false}, colors: {enabled: false}},
      scales: {
        x: scaleCfg(true, X, r === 2, xTitle, MB - site.dX - lh / 2),
        y: scaleCfg(false, Y, c === 0, yTitle, ML - site.dY[r] - lh / 2)
      }
    }
  });
}

function addText(cls, x, y, txt, size) {
  const d = document.createElement('div');
  d.className = cls; d.textContent = txt;
  d.style.left = x + 'px'; d.style.top = y + 'px';
  if (size) d.style.fontSize = size + 'px';
  page.appendChild(d);
}

SITES.forEach(site => {
  for (let r = 0; r < 3; r++) {
    for (let c = 0; c <= r; c++) {
      if (r === c) {
        const hs = site.hist[r];
        makeCell(site, r, c, histSets(hs[0], hs[1], hs[2], site.rows[r].range[0]));
      } else {
        const s = site.sc[r + ',' + c];
        makeCell(site, r, c, scatterSets(s[0], s[1], s[2]));
      }
    }
  }
  addText('tt', site.title.x, site.title.y, site.name, site.title.size);
  site.r.forEach((v, i) => addText('rl', site.rPos[i][0], site.rPos[i][1], 'r = ' + v.toFixed(2)));
});
</script>
</body></html>
